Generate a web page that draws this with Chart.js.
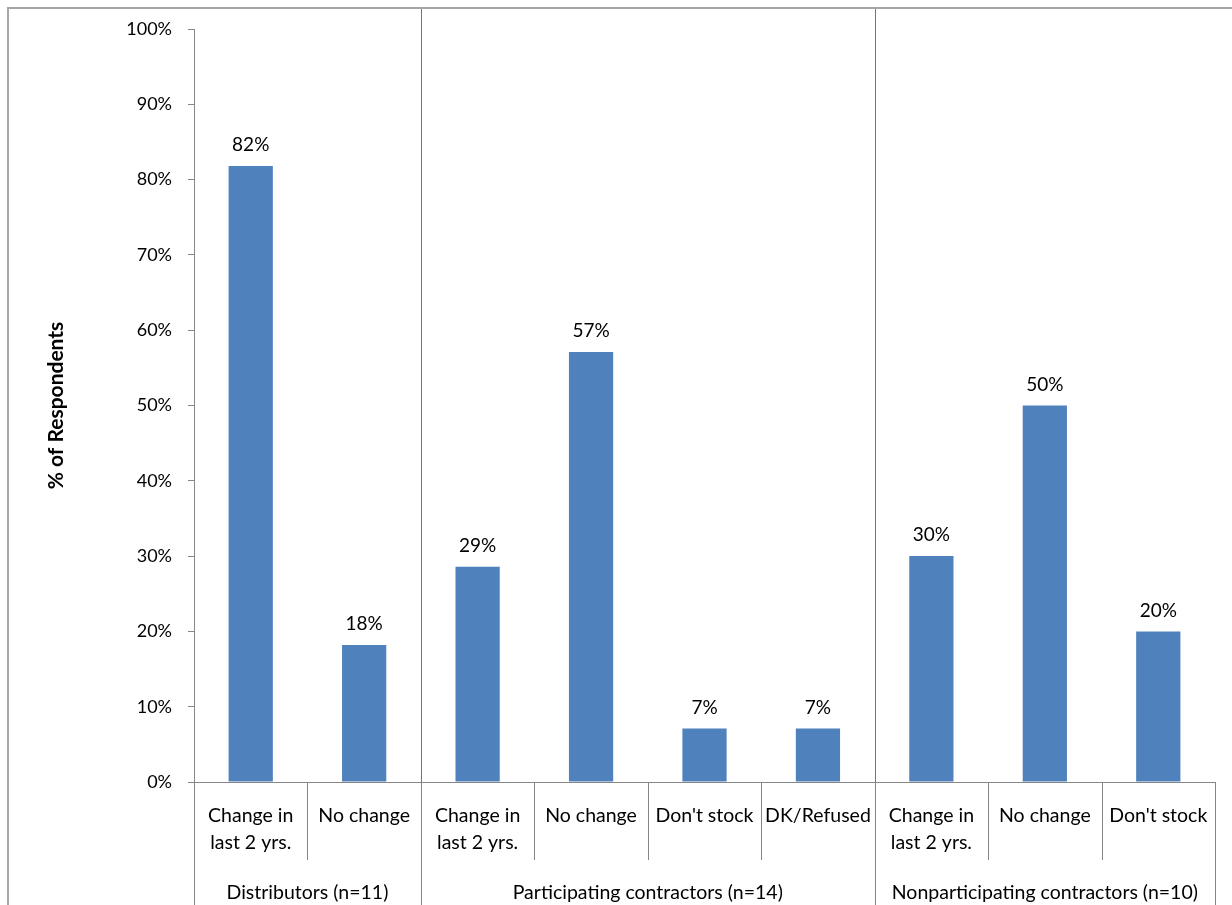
<!DOCTYPE html>
<html>
<head>
<meta charset="utf-8">
<title>Respondents by group</title>
<script src="https://cdn.jsdelivr.net/npm/chart.js@4/dist/chart.umd.min.js"></script>
<style>
  html, body { margin: 0; padding: 0; background: #ffffff; }
  #wrap { width: 1232px; height: 905px; position: relative; }
</style>
</head>
<body>
<div id="wrap"><canvas id="chart" width="1232" height="905"></canvas></div>
<script>
// Category labels (one per bar), grouped by respondent type
const categories = [
  ['Change in', 'last 2 yrs.'], 'No change',
  ['Change in', 'last 2 yrs.'], 'No change', "Don't stock", 'DK/Refused',
  ['Change in', 'last 2 yrs.'], 'No change', "Don't stock"
];
// Share of respondents (%) per category
const shares = [81.8, 18.2, 28.6, 57.1, 7.1, 7.1, 30.0, 50.0, 20.0];
// Respondent groups and how many categories each spans
const groupNames = ['Distributors (n=11)', 'Participating contractors (n=14)', 'Nonparticipating contractors (n=10)'];
const groupSizes = [2, 4, 3];
// Y axis ticks
const yTicks = [0, 10, 20, 30, 40, 50, 60, 70, 80, 90, 100];

const FONT = 'Lato, "Open Sans", sans-serif';
const BAR = '#4F81BD';
const DIVIDER = '#4A7EBB';
const AXIS = '#868686';

// Boundary pixel between category index i-1 and i on the x scale
function boundary(xs, i) {
  if (i <= 0) return xs.left;
  if (i >= categories.length) return xs.right;
  return (xs.getPixelForValue(i - 1) + xs.getPixelForValue(i)) / 2;
}

const decorations = {
  id: 'decorations',
  beforeDraw(chart) {
    const ctx = chart.ctx;
    ctx.save();
    // outer frame
    ctx.fillStyle = '#a6a6a6';
    ctx.fillRect(7, 7, chart.width - 7, 2);
    ctx.fillRect(7, 7, 2, chart.height - 7);
    ctx.restore();
  },
  afterDraw(chart) {
    const ctx = chart.ctx;
    const xs = chart.scales.x;
    const axisY = Math.round(xs.top);
    ctx.save();
    let idx = 0;
    const bounds = [0];
    groupSizes.forEach(n => { idx += n; bounds.push(idx); });
    // category separators below the axis
    ctx.fillStyle = AXIS;
    for (let i = 0; i <= categories.length; i++) {
      const x = Math.round(boundary(xs, i));
      const isGroup = bounds.includes(i);
      ctx.fillRect(x, axisY, 1, (isGroup ? chart.height : axisY + 78) - axisY);
    }
    // group dividers inside the plot
    ctx.fillStyle = DIVIDER;
    bounds.slice(1, -1).forEach(b => {
      const x = Math.round(boundary(xs, b));
      ctx.fillRect(x, 9, 1, axisY - 9);
    });
    // group labels
    ctx.fillStyle = '#000000';
    ctx.font = '19.5px ' + FONT;
    ctx.textAlign = 'center';
    ctx.textBaseline = 'middle';
    for (let g = 0; g < groupNames.length; g++) {
      const x0 = boundary(xs, bounds[g]);
      const x1 = boundary(xs, bounds[g + 1]);
      ctx.fillText(groupNames[g], (x0 + x1) / 2, axisY + 111);
    }
    ctx.restore();
  },
  afterDatasetsDraw(chart) {
    const ctx = chart.ctx;
    const meta = chart.getDatasetMeta(0);
    ctx.save();
    ctx.fillStyle = '#000000';
    ctx.font = '19px ' + FONT;
    ctx.textAlign = 'center';
    ctx.textBaseline = 'middle';
    meta.data.forEach((bar, i) => {
      ctx.fillText(Math.round(shares[i]) + '%', bar.x, bar.y - 21);
    });
    ctx.restore();
  }
};

new Chart(document.getElementById('chart'), {
  type: 'bar',
  data: {
    labels: categories,
    datasets: [{
      data: shares,
      backgroundColor: BAR,
      borderWidth: 0,
      barPercentage: 0.39,
      categoryPercentage: 1.0
    }]
  },
  options: {
    responsive: false,
    animation: false,
    devicePixelRatio: 1,
    layout: { padding: { left: 0, top: 29, right: 17, bottom: 0 } },
    plugins: { legend: { display: false }, tooltip: { enabled: false } },
    scales: {
      x: {
        offset: true,
        grid: { display: false, drawTicks: false },
        border: { display: true, color: AXIS, width: 1 },
        ticks: {
          autoSkip: false,
          maxRotation: 0,
          minRotation: 0,
          padding: 20,
          color: '#000000',
          font: { family: FONT, size: 19.5, lineHeight: 1.4 }
        },
        afterFit(scale) { scale.height = 123; }
      },
      y: {
        min: 0,
        max: 100,
        afterBuildTicks(scale) { scale.ticks = yTicks.map(v => ({ value: v })); },
        grid: { drawOnChartArea: false, drawTicks: true, tickLength: 6, color: AXIS },
        border: { display: true, color: AXIS, width: 1 },
        ticks: {
          padding: 16,
          color: '#000000',
          font: { family: FONT, size: 18 },
          callback: v => v + '%'
        },
        title: {
          display: true,
          text: '% of Respondents',
          color: '#000000',
          font: { family: FONT, size: 21, weight: 'bold' },
          padding: { top: 44, bottom: 0 }
        },
        afterFit(scale) { scale.width = 194; }
      }
    }
  },
  plugins: [decorations]
});
</script>
</body>
</html>
